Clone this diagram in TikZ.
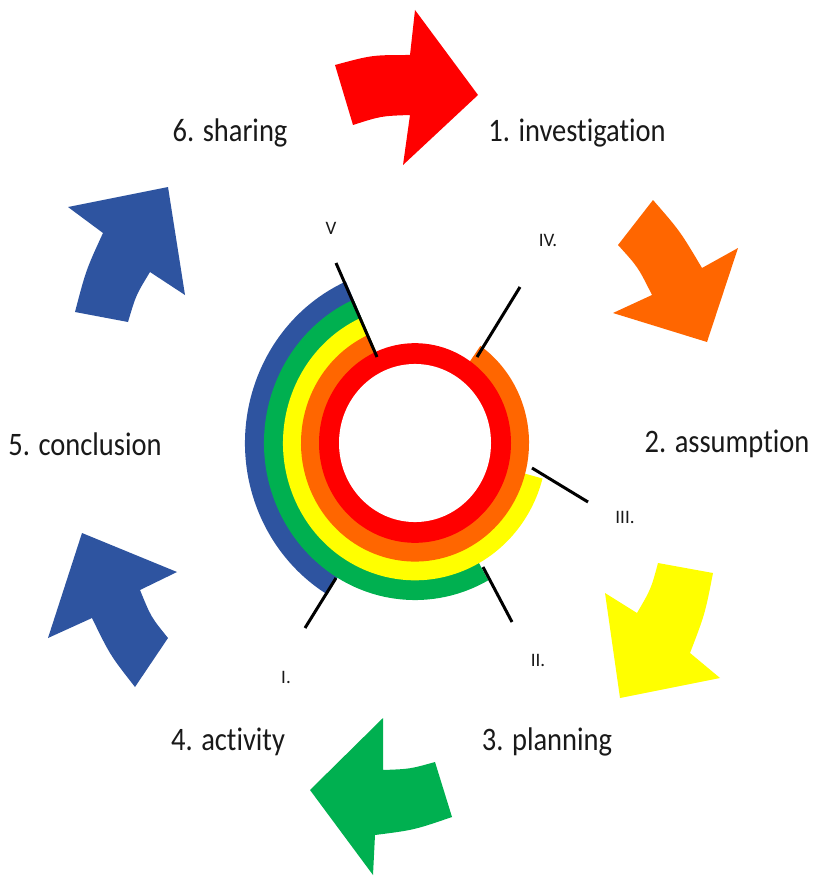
\documentclass[tikz,border=0pt]{standalone}
\usepackage{fontspec}
\setmainfont[Ligatures=NoCommon]{Carlito}
\definecolor{cred}{RGB}{255,0,0}
\definecolor{corange}{RGB}{255,102,0}
\definecolor{cyellow}{RGB}{255,255,0}
\definecolor{cgreen}{RGB}{0,176,80}
\definecolor{cblue}{RGB}{46,84,160}
\definecolor{ctext}{RGB}{25,25,25}
\newcommand{\tallsc}[1]{\scalebox{1}[1.15]{#1}}
\tikzset{
  steplabel/.style={font=\fontsize{28.5}{30}\selectfont, text=ctext, inner sep=0pt},
  romanlabel/.style={font=\fontsize{19}{21}\selectfont, text=ctext, inner sep=0pt},
  tick/.style={draw=black, line width=3pt},
}
\begin{document}
\begin{tikzpicture}[x=1pt,y=-1pt]
\useasboundingbox (0,0) rectangle (813,880);
\fill[white] (0,0) rectangle (813,880);

% curved block arrows
\fill[cred] (335,65) .. controls (372,55) .. (410,55) -- (415,10) -- (478,95) -- (403,165) -- (410,115) .. controls (381,116) .. (353,125) -- cycle;
\fill[corange] (618,245) -- (653,200) .. controls (680,231) .. (702,268) -- (738,248) -- (707,342) -- (613,313) -- (652,295) .. controls (638,267) .. cycle;
\fill[cyellow] (658,563) -- (713,573) .. controls (705,614) .. (690,653) -- (720,678) -- (620,698) -- (605,593) -- (637,613) .. controls (651,589) .. cycle;
\fill[cgreen] (435,762) -- (452,817) .. controls (414,830) .. (375,835) -- (373,875) -- (310,790) -- (383,718) -- (383,770) .. controls (410,769) .. cycle;
\fill[cblue] (82,533) -- (177,572) -- (140,590) .. controls (151,617) .. (168,638) -- (135,687) .. controls (110,655) .. (92,618) -- (48,638) -- cycle;
\fill[cblue] (68,207) -- (168,187) -- (185,295) -- (150,272) .. controls (136,295) .. (128,322) -- (75,312) .. controls (86,270) .. (103,233) -- cycle;

% rings
\begin{scope}[shift={(415,443)}, y=1.04pt]
  \fill[cblue] (0,0) -- (114:170) arc[start angle=114, end angle=239, radius=170] -- cycle;
  \fill[cgreen] (0,0) -- (114:151) arc[start angle=114, end angle=299, radius=151] -- cycle;
  \fill[cyellow] (0,0) -- (114:132) arc[start angle=114, end angle=345, radius=132] -- cycle;
  \fill[corange] (0,0) -- (114:114) arc[start angle=114, end angle=415, radius=114] -- cycle;
  \fill[cred] (0,0) circle[radius=96];
  \fill[white] (0,0) circle[radius=76];
\end{scope}

% tick lines
\coordinate (v1) at (377,357);   \coordinate (v2) at (336,263);
\coordinate (iv1) at (477,357);  \coordinate (iv2) at (520,287);
\coordinate (iii1) at (532,468); \coordinate (iii2) at (588,502);
\coordinate (ii1) at (483,567);  \coordinate (ii2) at (512,622);
\coordinate (i1) at (336,578);   \coordinate (i2) at (305,628);
\draw[tick] (v1) -- (v2);
\draw[tick] (iv1) -- (iv2);
\draw[tick] (iii1) -- (iii2);
\draw[tick] (ii1) -- (ii2);
\draw[tick] (i1) -- (i2);

% roman labels
\node[romanlabel] (lv) at (331,228) {V};
\node[romanlabel] (liv) at (548,240) {IV.};
\node[romanlabel] (liii) at (625,517) {III.};
\node[romanlabel] (lii) at (538,660) {II.};
\node[romanlabel] (li) at (286,677) {I.};

% step labels
\node[steplabel] (s6) at (230,133) {\tallsc{6. sharing}};
\node[steplabel] (s1) at (577,133) {\tallsc{1. investigation}};
\node[steplabel] (s5) at (85,444) {\tallsc{5. conclusion}};
\node[steplabel] (s2) at (727,444) {\tallsc{2. assumption}};
\node[steplabel] (s4) at (228,742) {\tallsc{4. activity}};
\node[steplabel] (s3) at (547,742) {\tallsc{3. planning}};
\end{tikzpicture}
\end{document}
